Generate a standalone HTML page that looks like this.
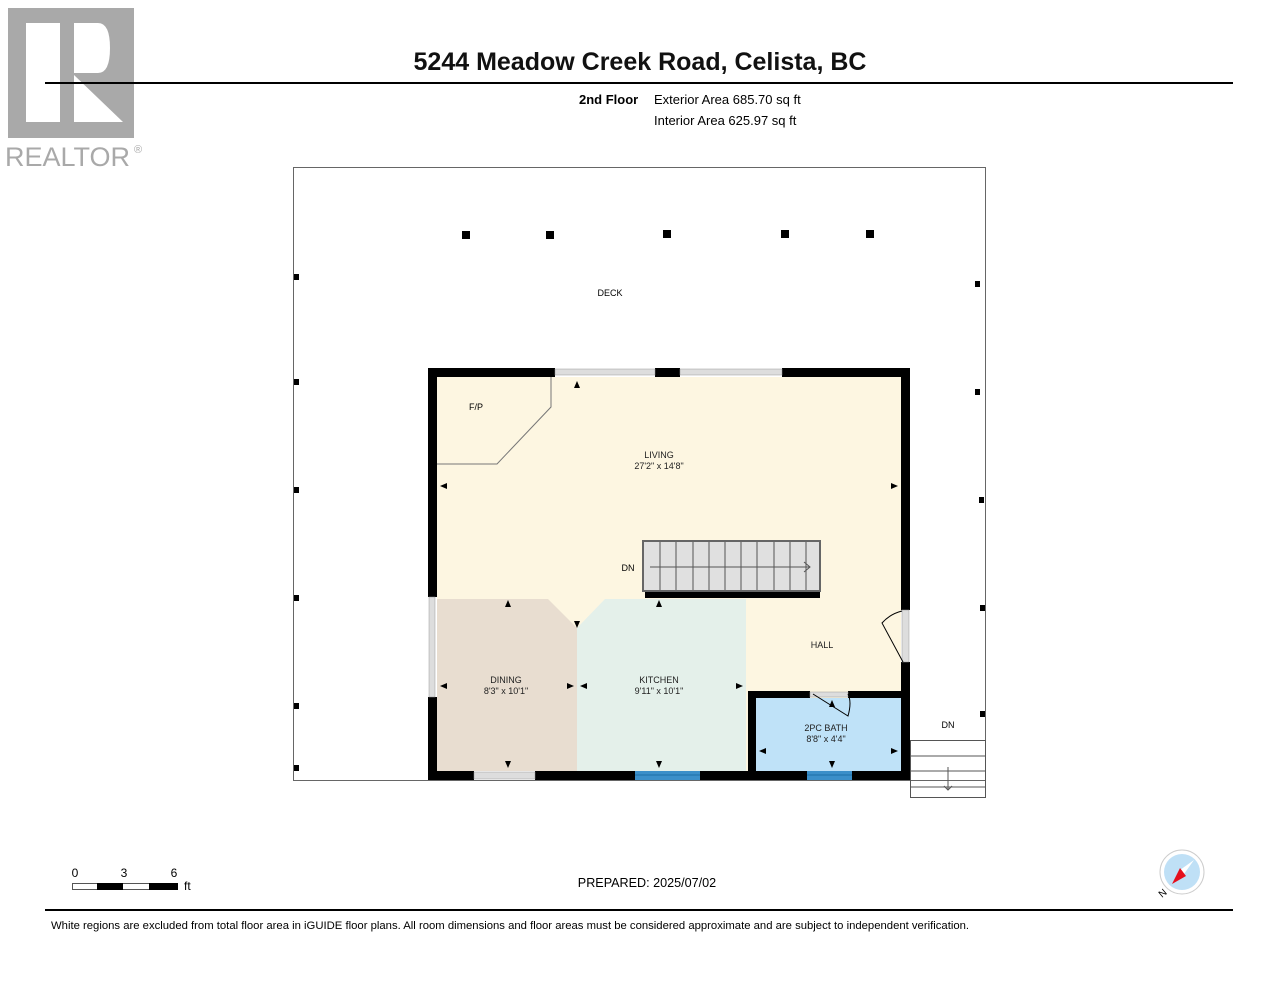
<!DOCTYPE html>
<html><head><meta charset="utf-8"><style>
html,body{margin:0;padding:0;background:#fff}
svg{display:block}
text{font-family:"Liberation Sans",Arial,sans-serif}
</style></head><body>
<svg width="1280" height="990" viewBox="0 0 1280 990" xmlns="http://www.w3.org/2000/svg">
<!-- logo -->
<rect x="8" y="8" width="126" height="130" fill="#a9a9a9"/>
<rect x="26" y="23" width="34" height="99" fill="#fff"/>
<path d="M74 23 H98 Q110 23 110 48 Q110 73 98 73 H74 Z" fill="#fff"/>
<path d="M74 75 L123 122 H74 Z" fill="#fff"/>
<text x="5" y="166" font-size="27" fill="#a9a9a9">REALTOR</text>
<text x="134" y="153" font-size="11" fill="#a9a9a9">®</text>
<!-- header -->
<text x="640" y="70" font-size="25" font-weight="bold" text-anchor="middle" fill="#111">5244 Meadow Creek Road, Celista, BC</text>
<line x1="45" y1="83" x2="1233" y2="83" stroke="#000" stroke-width="2"/>
<text x="579" y="104" font-size="13" font-weight="bold">2nd Floor</text>
<text x="654" y="104" font-size="13">Exterior Area 685.70 sq ft</text>
<text x="654" y="125" font-size="13">Interior Area 625.97 sq ft</text>
<!-- deck -->
<rect x="293.5" y="167.5" width="692" height="613" fill="none" stroke="#666" stroke-width="1"/>
<g fill="#000">
<rect x="462" y="231" width="8" height="8"/><rect x="546" y="231" width="8" height="8"/><rect x="663" y="230" width="8" height="8"/><rect x="781" y="230" width="8" height="8"/><rect x="866" y="230" width="8" height="8"/>
<rect x="294" y="274" width="5" height="6"/><rect x="294" y="379" width="5" height="6"/><rect x="294" y="487" width="5" height="6"/><rect x="294" y="595" width="5" height="6"/><rect x="294" y="703" width="5" height="6"/><rect x="294" y="765" width="5" height="6"/>
<rect x="975" y="281" width="5" height="6"/><rect x="975" y="389" width="5" height="6"/><rect x="979" y="497" width="5" height="6"/><rect x="980" y="605" width="5" height="6"/><rect x="980" y="711" width="5" height="6"/>
</g>
<text x="610" y="296" font-size="9" text-anchor="middle">DECK</text>
<!-- floors -->
<rect x="437" y="377" width="464" height="394" fill="#fdf6e1"/>
<polygon points="437,599 548,599 577,628 577,771 437,771" fill="#e8ddd0"/>
<polygon points="577,628 605,599 746,599 746,771 577,771" fill="#e4f0ea"/>
<rect x="756" y="698" width="145" height="73" fill="#bfe2f8"/>
<!-- F/P -->
<polyline points="437,464 497,464 551,407 551,377" fill="none" stroke="#777" stroke-width="1"/>
<text x="476" y="410" font-size="9" text-anchor="middle">F/P</text>
<!-- walls -->
<g fill="#000">
<rect x="428" y="368" width="127" height="9"/>
<rect x="655" y="368" width="25" height="9"/>
<rect x="782" y="368" width="128" height="9"/>
<rect x="428" y="368" width="9" height="229"/>
<rect x="428" y="697" width="9" height="83"/>
<rect x="901" y="368" width="9" height="242"/>
<rect x="901" y="662" width="9" height="118"/>
<rect x="428" y="771" width="46" height="9"/>
<rect x="535" y="771" width="100" height="9"/>
<rect x="700" y="771" width="107" height="9"/>
<rect x="852" y="771" width="58" height="9"/>
<rect x="748" y="691" width="8" height="80"/>
<rect x="748" y="691" width="62" height="7"/>
<rect x="848" y="691" width="53" height="7"/>
<rect x="645" y="591" width="175" height="7"/>
</g>
<!-- windows -->
<g fill="#ddd" stroke="#999" stroke-width="0.5">
<rect x="555" y="369" width="100" height="6"/>
<rect x="680" y="369" width="102" height="6"/>
<rect x="429" y="597" width="6" height="100"/>
<rect x="474" y="772" width="61" height="7"/>
<rect x="902" y="610" width="7" height="52"/>
<rect x="810" y="692" width="38" height="5"/>
</g>
<rect x="635" y="771" width="65" height="9" fill="#3b8fc9"/>
<rect x="807" y="771" width="45" height="9" fill="#3b8fc9"/>
<line x1="635" y1="775" x2="700" y2="775" stroke="#1e6fa8"/><line x1="807" y1="775" x2="852" y2="775" stroke="#1e6fa8"/>
<!-- doors -->
<path d="M903 662 L882 623 Q890 614 902 611" fill="none" stroke="#000" stroke-width="1"/>
<path d="M813 694 L848 716 Q852 702 848 694" fill="none" stroke="#000" stroke-width="1"/>
<!-- stairs -->
<rect x="643" y="541" width="177" height="50" fill="#e0e0e0" stroke="#666" stroke-width="2"/>
<g stroke="#555" stroke-width="1">
<line x1="660" y1="542" x2="660" y2="590"/><line x1="676" y1="542" x2="676" y2="590"/><line x1="693" y1="542" x2="693" y2="590"/><line x1="709" y1="542" x2="709" y2="590"/><line x1="725" y1="542" x2="725" y2="590"/><line x1="741" y1="542" x2="741" y2="590"/><line x1="757" y1="542" x2="757" y2="590"/><line x1="774" y1="542" x2="774" y2="590"/><line x1="790" y1="542" x2="790" y2="590"/><line x1="806" y1="542" x2="806" y2="590"/>
<line x1="650" y1="567" x2="810" y2="567"/>
<polyline points="804,562 810,567 804,572" fill="none"/>
</g>
<text x="628" y="571" font-size="9" text-anchor="middle">DN</text>
<!-- exterior stairs -->
<g stroke="#555" stroke-width="1" fill="none">
<rect x="910.5" y="740.5" width="75" height="57"/>
<line x1="910" y1="756" x2="986" y2="756"/><line x1="910" y1="771" x2="986" y2="771"/><line x1="910" y1="787" x2="986" y2="787"/>
<line x1="948" y1="767" x2="948" y2="790"/><polyline points="944,786 948,790 952,786"/>
</g>
<text x="948" y="728" font-size="9" text-anchor="middle">DN</text>
<!-- labels -->
<g font-size="9" text-anchor="middle" fill="#222">
<text x="659" y="458">LIVING</text><text x="659" y="469">27'2" x 14'8"</text>
<text x="506" y="683">DINING</text><text x="506" y="694">8'3" x 10'1"</text>
<text x="659" y="683">KITCHEN</text><text x="659" y="694">9'11" x 10'1"</text>
<text x="822" y="648">HALL</text>
<text x="826" y="731">2PC BATH</text><text x="826" y="742">8'8" x 4'4"</text>
</g>
<!-- arrowheads -->
<g fill="#000">
<polygon points="577,381 574,388 580,388"/>
<polygon points="440,486 447,483 447,489"/><polygon points="898,486 891,483 891,489"/>
<polygon points="508,600 505,607 511,607"/><polygon points="659,600 656,607 662,607"/>
<polygon points="577,628 574,621 580,621"/>
<polygon points="440,686 447,683 447,689"/><polygon points="574,686 567,683 567,689"/><polygon points="580,686 587,683 587,689"/><polygon points="743,686 736,683 736,689"/>
<polygon points="508,768 505,761 511,761"/><polygon points="659,768 656,761 662,761"/>
<polygon points="759,751 766,748 766,754"/><polygon points="898,751 891,748 891,754"/>
<polygon points="832,768 829,761 835,761"/><polygon points="832,700 829,707 835,707"/>
</g>
<!-- scale -->
<g font-size="12"><text x="75" y="877" text-anchor="middle">0</text><text x="124" y="877" text-anchor="middle">3</text><text x="174" y="877" text-anchor="middle">6</text><text x="184" y="890">ft</text></g>
<rect x="72.5" y="883.5" width="105" height="6" fill="#fff" stroke="#555"/>
<rect x="97" y="883" width="26" height="7" fill="#000"/><rect x="149" y="883" width="29" height="7" fill="#000"/>
<text x="647" y="887" font-size="12.6" text-anchor="middle">PREPARED: 2025/07/02</text>
<!-- compass -->
<circle cx="1182" cy="872" r="22" fill="#fff" stroke="#ccc"/>
<circle cx="1182" cy="872" r="18" fill="#bfe0f6"/>
<polygon points="1194,860 1180,870 1184,874" fill="#fff"/>
<polygon points="1172,884 1180,868 1186,876" fill="#e5101d"/>
<text x="1162" y="898" font-size="10" transform="rotate(-40 1162 898)">N</text>
<!-- footer -->
<line x1="45" y1="910" x2="1233" y2="910" stroke="#000" stroke-width="2"/>
<text x="51" y="929" font-size="11.3">White regions are excluded from total floor area in iGUIDE floor plans. All room dimensions and floor areas must be considered approximate and are subject to independent verification.</text>
</svg>
</body></html>
